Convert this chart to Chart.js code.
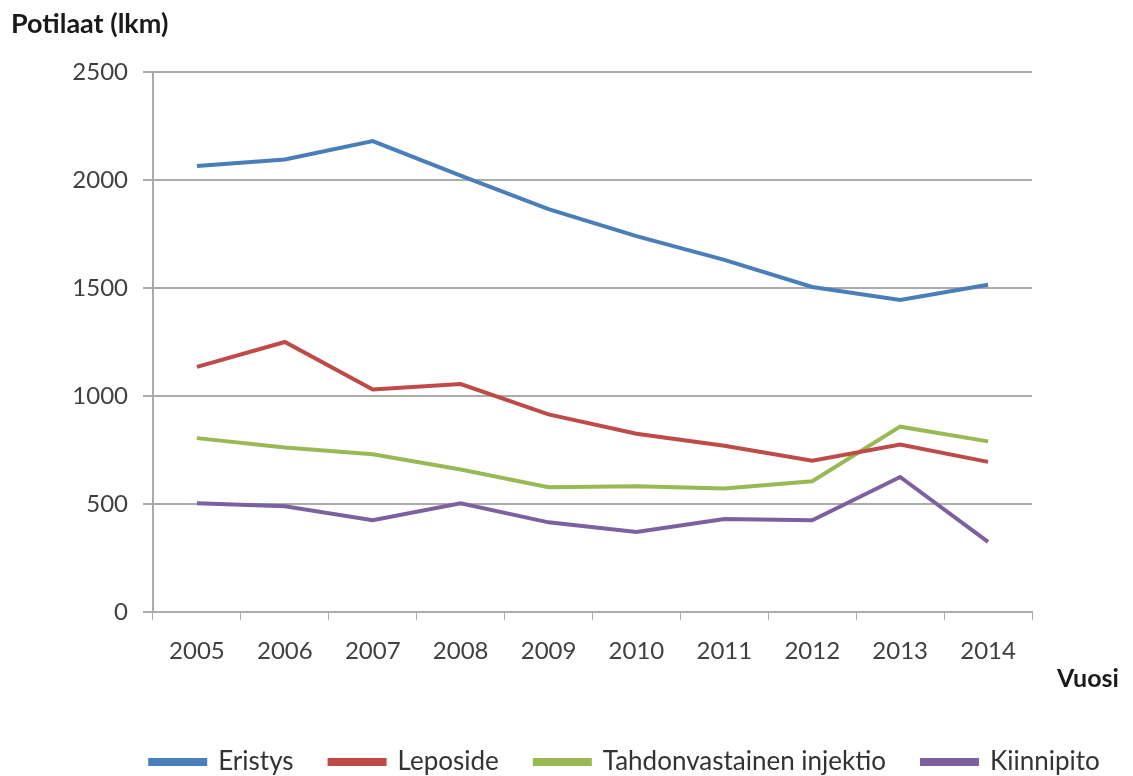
<!DOCTYPE html>
<html>
<head>
<meta charset="utf-8">
<script src="https://cdn.jsdelivr.net/npm/chart.js@4.4.0/dist/chart.umd.min.js"></script>
<style>
  body { margin: 0; background: #fff; }
  #wrap { position: relative; width: 1133px; height: 776px; }
  .lbl { position: absolute; font-family: Lato, "Open Sans", sans-serif; font-weight: bold; color: #1a1a1a; white-space: nowrap; }
</style>
</head>
<body>
<div id="wrap">
  <canvas id="kaavio" width="1133" height="776"></canvas>
  <div class="lbl" style="left:11px; top:6px; font-size:27px;">Potilaat (lkm)</div>
  <div class="lbl" style="left:1057px; top:662px; font-size:25px;">Vuosi</div>
</div>
<script>
const vuodet = ['2005', '2006', '2007', '2008', '2009', '2010', '2011', '2012', '2013', '2014'];
const eristys = [2065, 2095, 2180, 2020, 1865, 1740, 1630, 1505, 1445, 1515];
const leposide = [1135, 1250, 1030, 1055, 915, 825, 770, 700, 775, 695];
const injektio = [805, 762, 730, 660, 578, 582, 572, 605, 858, 790];
const kiinnipito = [503, 490, 425, 503, 415, 370, 430, 425, 625, 325];
const yTicks = [0, 500, 1000, 1500, 2000, 2500];

const fontti = 'Lato, "Open Sans", sans-serif';
const harmaa = '#ababab';
const selitePad = 36;
const seliteKoko = 26;

function sarja(nimi, data, vari) {
    return {
        label: nimi,
        data: data,
        borderColor: vari,
        backgroundColor: vari,
        borderWidth: 4,
        pointRadius: 0,
        tension: 0
    };
}

// siirretaan selite oikeaan kohtaan kuvassa
const siirraSelite = {
    id: 'siirraSelite',
    afterLayout(chart) {
        const lg = chart.legend;
        const dx = 625 - (lg.left + lg.right) / 2;
        const dy = 762 - (lg.top + selitePad + seliteKoko / 2);
        lg.left += dx; lg.right += dx;
        lg.top += dy; lg.bottom += dy;
    }
};

const ctx = document.getElementById('kaavio').getContext('2d');
new Chart(ctx, {
    type: 'line',
    data: {
        labels: vuodet,
        datasets: [
            sarja('Eristys', eristys, '#4a7ebb'),
            sarja('Leposide', leposide, '#be4b48'),
            sarja('Tahdonvastainen injektio', injektio, '#98b954'),
            sarja('Kiinnipito', kiinnipito, '#7d60a0')
        ]
    },
    plugins: [siirraSelite],
    options: {
        responsive: false,
        animation: false,
        layout: { padding: { left: 0, top: 72, right: 101, bottom: 0 } },
        plugins: {
            tooltip: { enabled: false },
            legend: {
                position: 'bottom',
                labels: {
                    boxWidth: 55,
                    boxHeight: 4,
                    padding: selitePad,
                    color: '#333',
                    font: { family: fontti, size: seliteKoko }
                }
            }
        },
        scales: {
            x: {
                offset: true,
                afterFit: s => { s.height = 776 - 612 - s.chart.legend.height; },
                grid: { drawOnChartArea: false, drawTicks: true, tickLength: 8, color: harmaa, offset: true },
                border: { color: harmaa, width: 2 },
                ticks: { color: '#404040', padding: 17, font: { family: fontti, size: 24 } }
            },
            y: {
                min: 0,
                max: 2500,
                afterFit: s => { s.width = 153; },
                afterBuildTicks: s => { s.ticks = yTicks.map(v => ({ value: v })); },
                grid: { color: harmaa, lineWidth: 2, tickLength: 10 },
                border: { color: harmaa, width: 2 },
                ticks: {
                    color: '#404040',
                    padding: 15,
                    font: { family: fontti, size: 24 },
                    callback: v => String(v)
                }
            }
        }
    }
});
</script>
</body>
</html>
